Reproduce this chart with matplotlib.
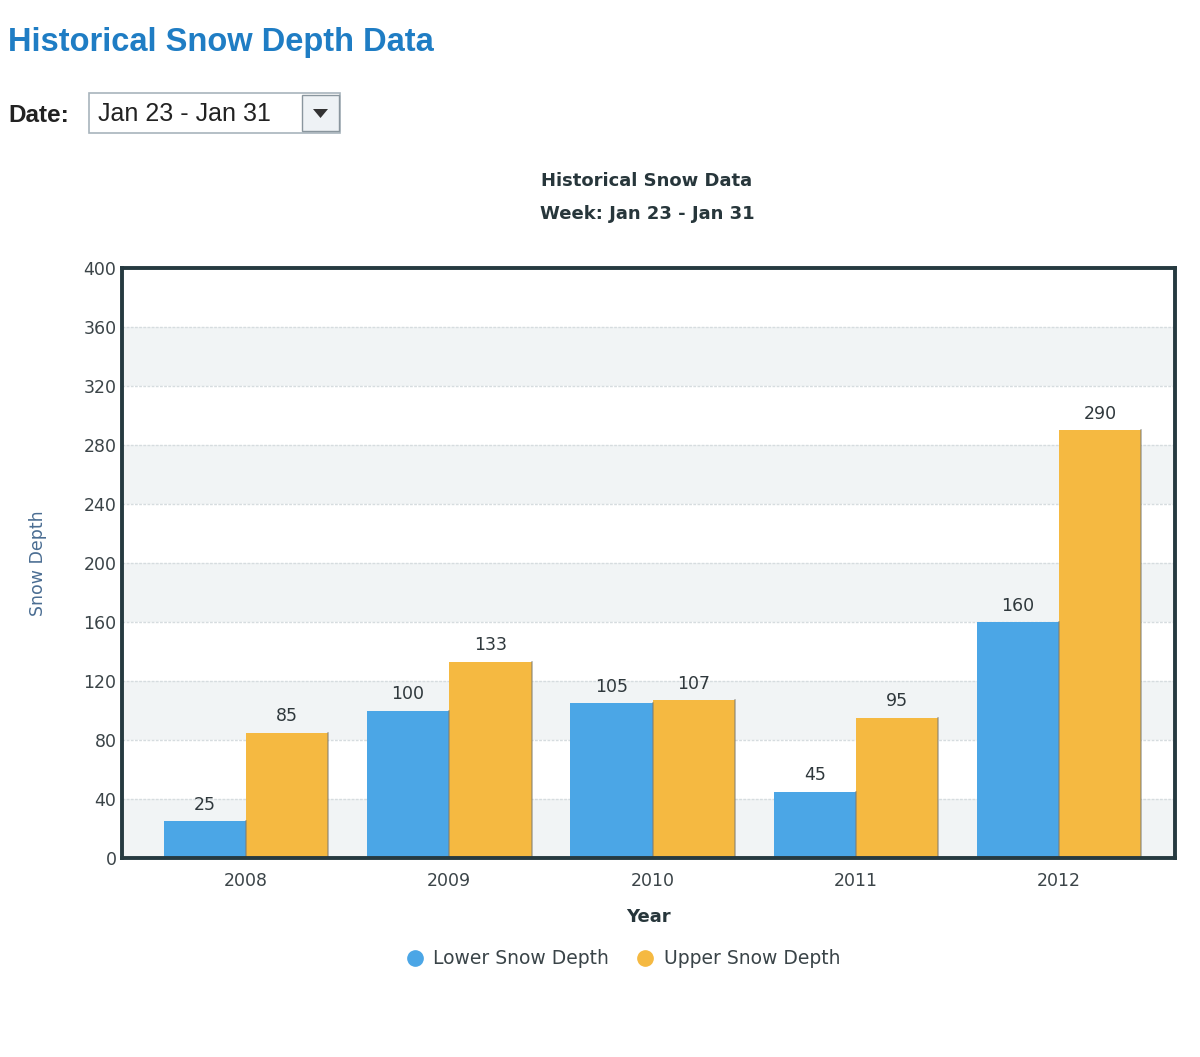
import matplotlib
matplotlib.use("Agg")
import matplotlib.pyplot as plt
import numpy as np
from matplotlib.patches import Rectangle, Polygon
from matplotlib.lines import Line2D

years = ["2008", "2009", "2010", "2011", "2012"]
lower = [25, 100, 105, 45, 160]
upper = [85, 133, 107, 95, 290]
series_names = ["Lower Snow Depth", "Upper Snow Depth"]
yticks = [0, 40, 80, 120, 160, 200, 240, 280, 320, 360, 400]

blue = "#4ba6e6"
orange = "#f5b941"
frame = "#263a40"
textc = "#3b4448"

W, H = 1200, 1057
fig = plt.figure(figsize=(W / 100, H / 100), dpi=100)
fig.patch.set_facecolor("white")

def fx(px):
    return px / W

def fy(py):
    return 1 - py / H

# Page header
fig.text(fx(8), fy(42), "Historical Snow Depth Data", color="#1f7dc4",
         fontsize=23.5, fontweight="bold", family="Liberation Sans", va="center", ha="left")
fig.text(fx(8), fy(115), "Date:", color="#222222", fontsize=17.5, fontweight="bold",
         family="Liberation Sans", va="center", ha="left")
fig.patches.append(Rectangle((fx(89), fy(133)), fx(251), (133 - 93) / H,
                             transform=fig.transFigure, facecolor="white",
                             edgecolor="#a8b4bc", lw=1.2))
fig.patches.append(Rectangle((fx(302), fy(131)), fx(37), (131 - 95) / H,
                             transform=fig.transFigure, facecolor="#eef2f5",
                             edgecolor="#8a969e", lw=1.0))
fig.patches.append(Polygon([(fx(313), fy(109)), (fx(328), fy(109)), (fx(320.5), fy(118))],
                           closed=True, transform=fig.transFigure, facecolor="#333333",
                           edgecolor="none"))
fig.text(fx(98), fy(114), "Jan 23 - Jan 31", color="#222222", fontsize=18,
         family="Liberation Sans", va="center", ha="left")

# Chart titles
fig.text(fx(647), fy(181), "Historical Snow Data", color="#27363b", fontsize=13,
         fontweight="bold", ha="center", va="center")
fig.text(fx(647), fy(214), "Week: Jan 23 - Jan 31", color="#27363b", fontsize=13,
         fontweight="bold", ha="center", va="center")

ax = fig.add_axes([fx(122), fy(858), fx(1175 - 122), (858 - 268) / H])
x = np.arange(len(years))
w = 0.405

# alternating bands
for i in range(len(yticks) - 1):
    if (i % 2) == 0:
        ax.axhspan(yticks[i], yticks[i + 1], color="#f1f4f5", zorder=0, lw=0)
for t in yticks[1:-1]:
    ax.axhline(t, color="#d6dcdf", lw=1, ls=(0, (2, 1)), zorder=0.5)

b1 = ax.bar(x - w / 2, lower, width=w, color=blue, edgecolor="none", zorder=2)
b2 = ax.bar(x + w / 2, upper, width=w, color=orange, edgecolor="none", zorder=2)
# subtle right-edge shadow
for bars in (b1, b2):
    for r in bars:
        ax.plot([r.get_x() + r.get_width(), r.get_x() + r.get_width()], [0, r.get_height()],
                color="#7d7a6e", lw=1.2, alpha=0.6, zorder=2.5)

for bars, vals in ((b1, lower), (b2, upper)):
    for r, v in zip(bars, vals):
        ax.text(r.get_x() + r.get_width() / 2, v + 5, str(v), ha="center", va="bottom",
                fontsize=12.5, color="#2f383c", zorder=3)

ax.set_xlim(-0.61, 4.57)
ax.set_ylim(0, 400)
ax.set_yticks(yticks)
ax.set_yticklabels([str(t) for t in yticks])
ax.set_xticks(x)
ax.set_xticklabels(years)
ax.tick_params(axis="both", length=0, labelsize=12.5, colors=textc)
ax.tick_params(axis="x", pad=10)
ax.tick_params(axis="y", pad=4)
for s in ax.spines.values():
    s.set_color(frame)
    s.set_linewidth(2.8)
ax.set_facecolor("white")

ax.set_xlabel("Year", fontsize=13, fontweight="bold", color="#27363b", labelpad=13)
ax.set_ylabel("Snow Depth", fontsize=12.5, color="#4a6d92", labelpad=26)

handles = [Line2D([], [], marker="o", ls="none", markersize=11, color=blue),
           Line2D([], [], marker="o", ls="none", markersize=11, color=orange)]
fig.legend(handles, series_names, loc="center", bbox_to_anchor=(fx(618), fy(959)),
           ncol=2, frameon=False, fontsize=13.5, handletextpad=0.0, columnspacing=0.9,
           labelcolor="#3a4448")

fig.savefig("out.png", dpi=100, facecolor="white")
